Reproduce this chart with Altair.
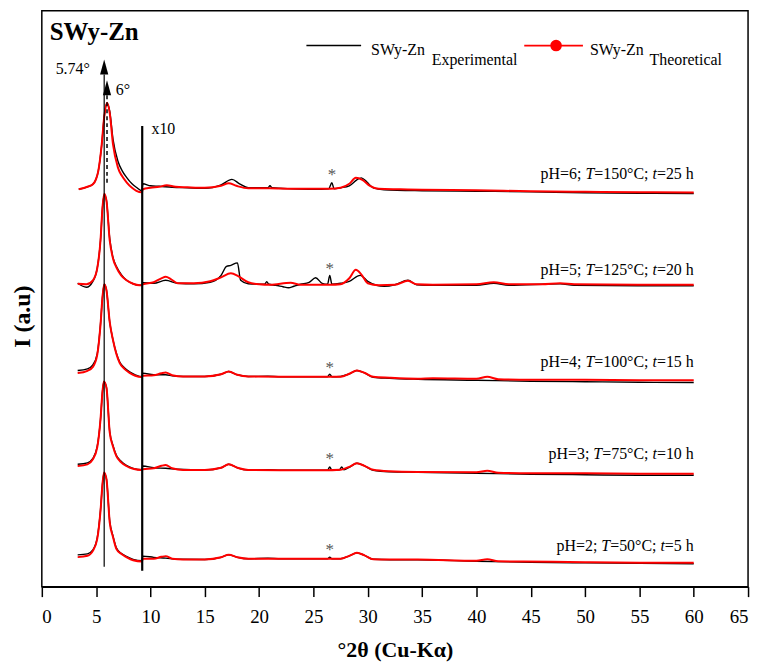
import altair as alt
import pandas as pd

FONT = "Liberation Serif"

# ---------------- data (2theta in degrees, intensity in arbitrary units incl. stacking offset) -------------
ph6_exp_x = [3.4, 4.2, 4.7, 5.0, 5.2, 5.5, 5.75, 6.0, 6.25, 6.55, 7.0, 7.4, 7.8, 8.3, 8.7, 9.2, 9.3, 10.0, 10.8, 12, 13.4, 15, 16.5, 17.5, 18.2, 19, 20.8, 21.0, 21.2, 23, 25, 26.4, 26.7, 26.9, 27.5, 28.3, 29.0, 29.4, 29.9, 30.5, 31.5, 35, 40, 45, 50, 55, 60]
ph6_exp_i = [399.5, 402, 404.5, 410, 418, 443, 473, 486, 478, 450, 428, 418, 411.5, 405, 401.5, 398, 405, 403, 402.5, 401.5, 401, 400.5, 404, 409.5, 405, 401, 401, 403, 401, 400, 399.5, 400, 406, 400, 401, 403, 409, 411, 407, 401, 399, 398, 397.5, 397, 396, 395.5, 395.3]
ph6_theo_x = [3.4, 4.2, 4.7, 5.0, 5.2, 5.5, 5.75, 6.0, 6.25, 6.55, 7.0, 7.4, 7.8, 8.3, 8.7, 9.2, 9.3, 10.0, 10.8, 11.5, 12.3, 13.4, 15, 16.5, 17.2, 17.9, 19, 21, 23, 25, 26.5, 27.5, 28.3, 28.9, 29.5, 30.2, 31, 33, 35, 40, 45, 50, 55, 60]
ph6_theo_i = [399.5, 402, 404.5, 410, 418, 443, 473, 486.5, 476, 445, 421.5, 412.5, 406.5, 401, 398, 396.5, 399.5, 401, 402, 403.5, 402, 401.5, 401, 403, 405.5, 403, 400.5, 400.5, 400, 400, 400, 401, 405, 411, 409, 403, 400, 399.5, 399, 398.5, 397.5, 397, 396.5, 396.3]

ph5_exp_x = [3.3, 4.1, 4.7, 5.1, 5.4, 5.6, 5.75, 5.95, 6.25, 6.55, 6.86, 7.3, 7.8, 8.4, 9.0, 9.2, 9.3, 10.3, 11.4, 12.5, 14, 15.5, 16.5, 17.0, 17.4, 18.0, 18.3, 19, 20.5, 20.7, 20.9, 21.5, 22.2, 22.7, 23.2, 23.8, 24.6, 25.2, 25.8, 26.3, 26.5, 26.7, 27.5, 28.3, 29.3, 30, 30.8, 31.5, 32.5, 33.7, 34.5, 36, 40, 41.6, 43, 47.7, 49, 55, 60]
ph5_exp_i = [305, 301, 307, 320, 348, 383, 394, 388, 350, 331, 322, 314, 308, 304.5, 303, 303, 305.5, 305, 308, 305, 304.5, 306, 313, 322, 323, 325.5, 308, 304.5, 304, 306.5, 304, 303, 301.5, 300.5, 302, 304, 306, 310.5, 305, 304, 313, 304, 305, 307, 313, 307, 303, 302, 303.5, 308, 303.5, 303, 303, 305, 303, 304.5, 303, 302.5, 302.5]
ph5_theo_x = [3.3, 4.1, 4.7, 5.1, 5.4, 5.6, 5.75, 5.95, 6.25, 6.55, 6.86, 7.3, 7.8, 8.4, 9.0, 9.2, 9.3, 10.3, 11.0, 11.4, 11.9, 12.5, 14, 15.5, 16.5, 17.4, 18.1, 19, 20, 21, 22.9, 23.8, 25, 26.5, 27.5, 28.3, 28.9, 29.4, 30, 31, 32.5, 33.7, 34.5, 36, 40, 41.6, 43, 46, 47.7, 49, 55, 60]
ph5_theo_i = [304.5, 304, 308, 320, 348, 383, 395, 388, 348, 330, 321, 313, 308, 304.5, 303, 303, 304, 306, 310, 311.5, 309, 305, 305, 307, 311, 315, 312, 306, 304, 303.5, 305.5, 303.5, 303.5, 303.5, 304, 310, 318.5, 314, 305, 303, 303.5, 307.5, 304, 303.5, 304, 306, 304, 304, 305, 304, 303.5, 303.5]

ph4_exp_x = [3.3, 4.2, 4.7, 5.1, 5.4, 5.6, 5.75, 5.95, 6.25, 6.55, 7.16, 7.6, 8.08, 8.6, 9.2, 9.3, 10.3, 11.4, 12, 13, 15, 16.5, 17.2, 18, 19, 20.8, 22, 26.3, 26.5, 26.7, 27.5, 28.3, 29.0, 29.7, 30.5, 32, 34.6, 40, 45, 50, 55, 60]
ph4_exp_i = [217.3, 219, 223, 234, 264, 293, 304, 298, 266, 248, 226, 220, 216, 213, 211, 214.7, 213, 213, 212, 211.3, 211.3, 213.5, 216.3, 213, 211.3, 211.5, 211, 211, 213.7, 211, 211.3, 214, 217.3, 215, 210.5, 209.5, 208.5, 207.5, 206.5, 206, 205.5, 205.3]
ph4_theo_x = [3.3, 4.2, 4.7, 5.1, 5.4, 5.6, 5.75, 5.95, 6.25, 6.55, 7.16, 7.6, 8.08, 8.6, 9.2, 9.3, 10.3, 11.0, 11.4, 12, 13, 15, 16.5, 17.2, 18, 19, 22, 26, 27.5, 28.3, 29.0, 29.7, 30.5, 32, 34.6, 36, 40, 41, 42, 45, 50, 55, 60]
ph4_theo_i = [214.7, 217, 221, 233, 263, 293, 304, 298, 266, 248, 225, 219, 215, 212, 210.7, 212, 212.5, 214.5, 215.3, 212.5, 211.3, 211.3, 213.5, 216.3, 213, 211.3, 211, 211, 211, 214, 217.3, 215, 211, 210, 209, 209.5, 209, 211, 208.5, 208, 208, 207.5, 207.5]

ph3_exp_x = [3.3, 4.2, 4.7, 5.1, 5.4, 5.6, 5.72, 5.95, 6.25, 6.55, 6.86, 7.3, 7.78, 8.4, 9.2, 9.3, 10.3, 11.4, 12.5, 15, 16.5, 17.2, 18, 19, 20.8, 22, 26.3, 26.5, 26.7, 27.4, 27.6, 27.8, 28.3, 29.0, 29.7, 30.5, 32, 34.6, 40, 45, 50, 55, 60]
ph3_exp_i = [123, 124.5, 129, 141, 168, 198, 206, 200, 156, 142, 132, 126, 122, 119, 117.5, 121.3, 119.5, 119, 118, 117.3, 119.5, 123, 119.5, 117.3, 117.5, 117, 117, 120.3, 117, 117.5, 120.3, 117.5, 120, 124, 121.5, 117, 115.5, 115, 114, 113, 112.5, 112, 112]
ph3_theo_x = [3.3, 4.2, 4.7, 5.1, 5.4, 5.6, 5.72, 5.95, 6.25, 6.55, 6.86, 7.3, 7.78, 8.4, 9.2, 9.3, 10.3, 11.0, 11.4, 12, 13, 15, 16.5, 17.2, 18, 19, 22, 26, 27.5, 28.3, 29.0, 29.7, 30.5, 32, 34.6, 40, 41, 42, 45, 50, 55, 60]
ph3_theo_i = [121.3, 123, 128, 140, 168, 198, 206.3, 200, 155, 141, 131.3, 125, 121.3, 118.5, 117.3, 118, 119, 121.5, 122.3, 119, 117.3, 117.3, 119.5, 123, 119.5, 117.3, 117, 117, 117.5, 120.5, 124, 121.5, 117.5, 116, 115.3, 115, 116.5, 114.5, 114, 114, 113.5, 113.5]

ph2_exp_x = [3.3, 4.2, 4.7, 5.1, 5.4, 5.6, 5.73, 5.95, 6.25, 6.55, 6.86, 7.3, 7.78, 8.4, 9.2, 9.3, 10.3, 11.4, 12.5, 15, 16.5, 17.2, 18, 19, 20.8, 22, 26.3, 26.5, 26.7, 27.5, 28.3, 29.0, 29.7, 30.5, 32, 34.6, 40, 45, 50, 55, 60]
ph2_exp_i = [32, 33, 37, 49, 77, 105, 114, 108, 66, 51, 39, 33.5, 30.5, 27.5, 26, 30.7, 29.5, 28.7, 27.5, 27.3, 29.5, 32, 29.5, 28, 28.5, 28, 28, 29.7, 28, 28, 31, 34, 31.5, 27.5, 27, 27, 25.5, 24.5, 24, 23.5, 23]
ph2_theo_x = [3.3, 4.2, 4.7, 5.1, 5.4, 5.6, 5.73, 5.95, 6.25, 6.55, 6.86, 7.3, 7.78, 8.4, 9.2, 9.3, 10.3, 11.0, 11.4, 12, 13, 15, 16.5, 17.2, 18, 19, 22, 26, 27.5, 28.3, 29.0, 29.7, 30.5, 32, 34.6, 40, 41, 42, 47, 50, 55, 60]
ph2_theo_i = [29.7, 31, 36, 48, 76, 105, 114.7, 108, 64.7, 50, 38, 33, 29.7, 26.5, 25.3, 28, 28, 30, 30.7, 28, 27.3, 27.3, 29.5, 32, 29.5, 28, 28, 28, 28, 31, 34, 31.5, 27.5, 27.3, 27.3, 26, 27.5, 25.5, 25, 24.5, 24, 24]

pattern_names = ["pH6", "pH5", "pH4", "pH3", "pH2"]
label_ph = ["pH=6;", "pH=5;", "pH=4;", "pH=3;", "pH=2;"]
label_temp = ["=150°C;", "=125°C;", "=100°C;", "=75°C;", "=50°C;"]
label_time = ["=25 h", "=20 h", "=15 h", "=10 h", "=5 h"]
label_i = [410, 313, 221, 128, 36]
label_end_x = 60

star_x = [26.7, 26.5, 26.5, 26.5, 26.5]
star_i = [417, 322, 223, 131, 40]

ref_lines_x = [5.74, 6.0, 9.24]
ref_lines_lo = [20, 406, 16]
ref_lines_hi = [515, 494, 463]
arrow_x = [5.74, 6.0]
arrow_i = [522.5, 501.5]

x_ticks = [0, 2.5, 5, 7.5, 10, 12.5, 15, 17.5, 20, 22.5, 25, 27.5, 30, 32.5, 35, 37.5,
           40, 42.5, 45, 47.5, 50, 52.5, 55, 57.5, 60, 62.5, 65]

# ---------------- build tables ----------------
series = {
    "pH6": (ph6_exp_x, ph6_exp_i, ph6_theo_x, ph6_theo_i),
    "pH5": (ph5_exp_x, ph5_exp_i, ph5_theo_x, ph5_theo_i),
    "pH4": (ph4_exp_x, ph4_exp_i, ph4_theo_x, ph4_theo_i),
    "pH3": (ph3_exp_x, ph3_exp_i, ph3_theo_x, ph3_theo_i),
    "pH2": (ph2_exp_x, ph2_exp_i, ph2_theo_x, ph2_theo_i),
}
rows = []
for name, (ex, ei, tx, ti) in series.items():
    for k, (a, b) in enumerate(zip(ex, ei)):
        rows.append({"x": a, "I": b, "pattern": name, "kind": "exp", "o": k})
    for k, (a, b) in enumerate(zip(tx, ti)):
        rows.append({"x": a, "I": b, "pattern": name, "kind": "theo", "o": k})
df = pd.DataFrame(rows)

W, H = 710, 579
XMAX = 65
px_per_deg = W / XMAX
FS = 16
# Times-like advance widths (em)
wtab = {" ": 0.25, "p": 0.5, "H": 0.722, "=": 0.564, ";": 0.278, "°": 0.4, "C": 0.667,
        "h": 0.5, "T": 0.556, "t": 0.278}
def tw(s):
    return sum(wtab.get(c, 0.5) for c in s) * FS

seg_rows = []
for j in range(5):
    segs = [(label_ph[j], False), (" ", None), ("T", True), (label_temp[j], False),
            (" ", None), ("t", True), (label_time[j], False)]
    right = 0.0
    for s, it in reversed(segs):
        if it is not None:
            seg_rows.append({"x": label_end_x - right / px_per_deg, "I": label_i[j],
                             "txt": s, "it": it})
        right += tw(s)
seg_df = pd.DataFrame(seg_rows)

xs = alt.Scale(domain=[0, XMAX], nice=False, zero=False)
ys = alt.Scale(domain=[0, H], nice=False, zero=False)

xaxis = alt.Axis(
    values=x_ticks,
    labelExpr="datum.value % 5 === 0 ? datum.label : ''",
    tickSize={"condition": {"test": "datum.value % 5 === 0", "value": 10}, "value": 5},
    tickColor="black", tickWidth=1.5, domainColor="black", domainWidth=1.5,
    labelFont=FONT, labelFontSize=19, labelColor="black", labelPadding=11,
    labelOverlap=False, grid=False,
    title="°2θ (Cu-Kα)", titleFont=FONT, titleFontSize=22, titleFontWeight="bold",
    titleColor="black", titleY=70, titleBaseline="alphabetic",
)
yaxis = alt.Axis(
    labels=False, ticks=False, domain=False, grid=False,
    title="I (a.u)", titleFont=FONT, titleFontSize=24, titleFontWeight="bold",
    titleColor="black", titleAngle=-90, titleX=-12, titleY=307,
    titleAlign="center", titleBaseline="alphabetic",
)

base = alt.Chart(df)
exp_lines = base.transform_filter(alt.datum.kind == "exp").mark_line(
    color="black", strokeWidth=1.4, interpolate="monotone"
).encode(
    x=alt.X("x:Q", scale=xs, axis=xaxis),
    y=alt.Y("I:Q", scale=ys, axis=yaxis),
    detail="pattern:N", order="o:Q",
)
theo_lines = base.transform_filter(alt.datum.kind == "theo").mark_line(
    color="#ff0000", strokeWidth=2, interpolate="monotone"
).encode(x=alt.X("x:Q", scale=xs), y=alt.Y("I:Q", scale=ys), detail="pattern:N", order="o:Q")

ref_df = pd.DataFrame({"x": ref_lines_x, "lo": ref_lines_lo, "hi": ref_lines_hi,
                       "id": ["a", "b", "c"]})
def ref_layer(idx, **kw):
    return alt.Chart(ref_df).transform_filter(alt.datum.id == idx).mark_rule(color="black", **kw).encode(
        x=alt.X("x:Q", scale=xs), y=alt.Y("lo:Q", scale=ys), y2="hi:Q")
ref_a = ref_layer("a", strokeWidth=1.2)
ref_b = ref_layer("b", strokeWidth=1.5, strokeDash=[4, 3])
ref_c = ref_layer("c", strokeWidth=2.2)

arrow_df = pd.DataFrame({"x": arrow_x, "I": arrow_i})
arrows = alt.Chart(arrow_df).mark_point(
    shape="M0,-1L0.55,1L-0.55,1Z", filled=True, color="black", opacity=1, size=225
).encode(x=alt.X("x:Q", scale=xs), y=alt.Y("I:Q", scale=ys))

ann_df = pd.DataFrame({"x": [4.42, 6.8, 10.09], "I": [515, 494, 455], "txt": ["5.74°", "6°", "x10"],
                       "al": ["right", "left", "left"]})
ann_r = alt.Chart(ann_df).transform_filter(alt.datum.al == "right").mark_text(
    font=FONT, fontSize=16, color="black", align="right", baseline="alphabetic"
).encode(x=alt.X("x:Q", scale=xs), y=alt.Y("I:Q", scale=ys), text="txt:N")
ann_l = alt.Chart(ann_df).transform_filter(alt.datum.al == "left").mark_text(
    font=FONT, fontSize=16, color="black", align="left", baseline="alphabetic"
).encode(x=alt.X("x:Q", scale=xs), y=alt.Y("I:Q", scale=ys), text="txt:N")

star_df = pd.DataFrame({"x": star_x, "I": star_i})
stars = alt.Chart(star_df).mark_text(
    text="*", font=FONT, fontSize=17, color="#555555", baseline="middle", dy=3
).encode(x=alt.X("x:Q", scale=xs), y=alt.Y("I:Q", scale=ys))

lab_n = alt.Chart(seg_df).transform_filter("!datum.it").mark_text(
    font=FONT, fontSize=FS, color="black", align="right", baseline="alphabetic"
).encode(x=alt.X("x:Q", scale=xs), y=alt.Y("I:Q", scale=ys), text="txt:N")
lab_i = alt.Chart(seg_df).transform_filter("datum.it").mark_text(
    font=FONT, fontSize=FS, color="black", align="right", baseline="alphabetic", fontStyle="italic"
).encode(x=alt.X("x:Q", scale=xs), y=alt.Y("I:Q", scale=ys), text="txt:N")

one = pd.DataFrame({"a": [0]})
def txt(s, x, y, size=16, weight="normal"):
    return alt.Chart(one).mark_text(text=s, font=FONT, fontSize=size, fontWeight=weight,
                                    color="black", align="left", baseline="alphabetic").encode(
        x=alt.value(x), y=alt.value(y))

title_t = txt("SWy-Zn", 8, 29.5, size=25, weight="bold")
leg_line_b = alt.Chart(one).mark_rule(color="black", strokeWidth=1.5).encode(
    x=alt.value(266), x2=alt.value(321), y=alt.value(35))
leg_line_r = alt.Chart(one).mark_rule(color="#ff0000", strokeWidth=1.8).encode(
    x=alt.value(485), x2=alt.value(544), y=alt.value(35))
leg_dot = alt.Chart(one).mark_point(shape="circle", filled=True, color="#ff0000", opacity=1, size=135).encode(
    x=alt.value(517), y=alt.value(35))
leg_t1 = txt("SWy-Zn", 331, 44.3)
leg_t2 = txt("Experimental", 392, 54.3)
leg_t3 = txt("SWy-Zn", 551, 44.3)
leg_t4 = txt("Theoretical", 611, 54.3)

chart = alt.layer(
    exp_lines, theo_lines, ref_a, ref_b, ref_c, arrows, ann_r, ann_l, stars, lab_n, lab_i,
    title_t, leg_line_b, leg_line_r, leg_dot, leg_t1, leg_t2, leg_t3, leg_t4,
).properties(
    width=W, height=H, autosize="none",
    padding={"left": 34, "top": 1, "right": 10, "bottom": 76},
).configure_view(stroke="black", strokeWidth=1.5)

chart.save("out.html", embed_options={"renderer": "svg", "actions": False})
